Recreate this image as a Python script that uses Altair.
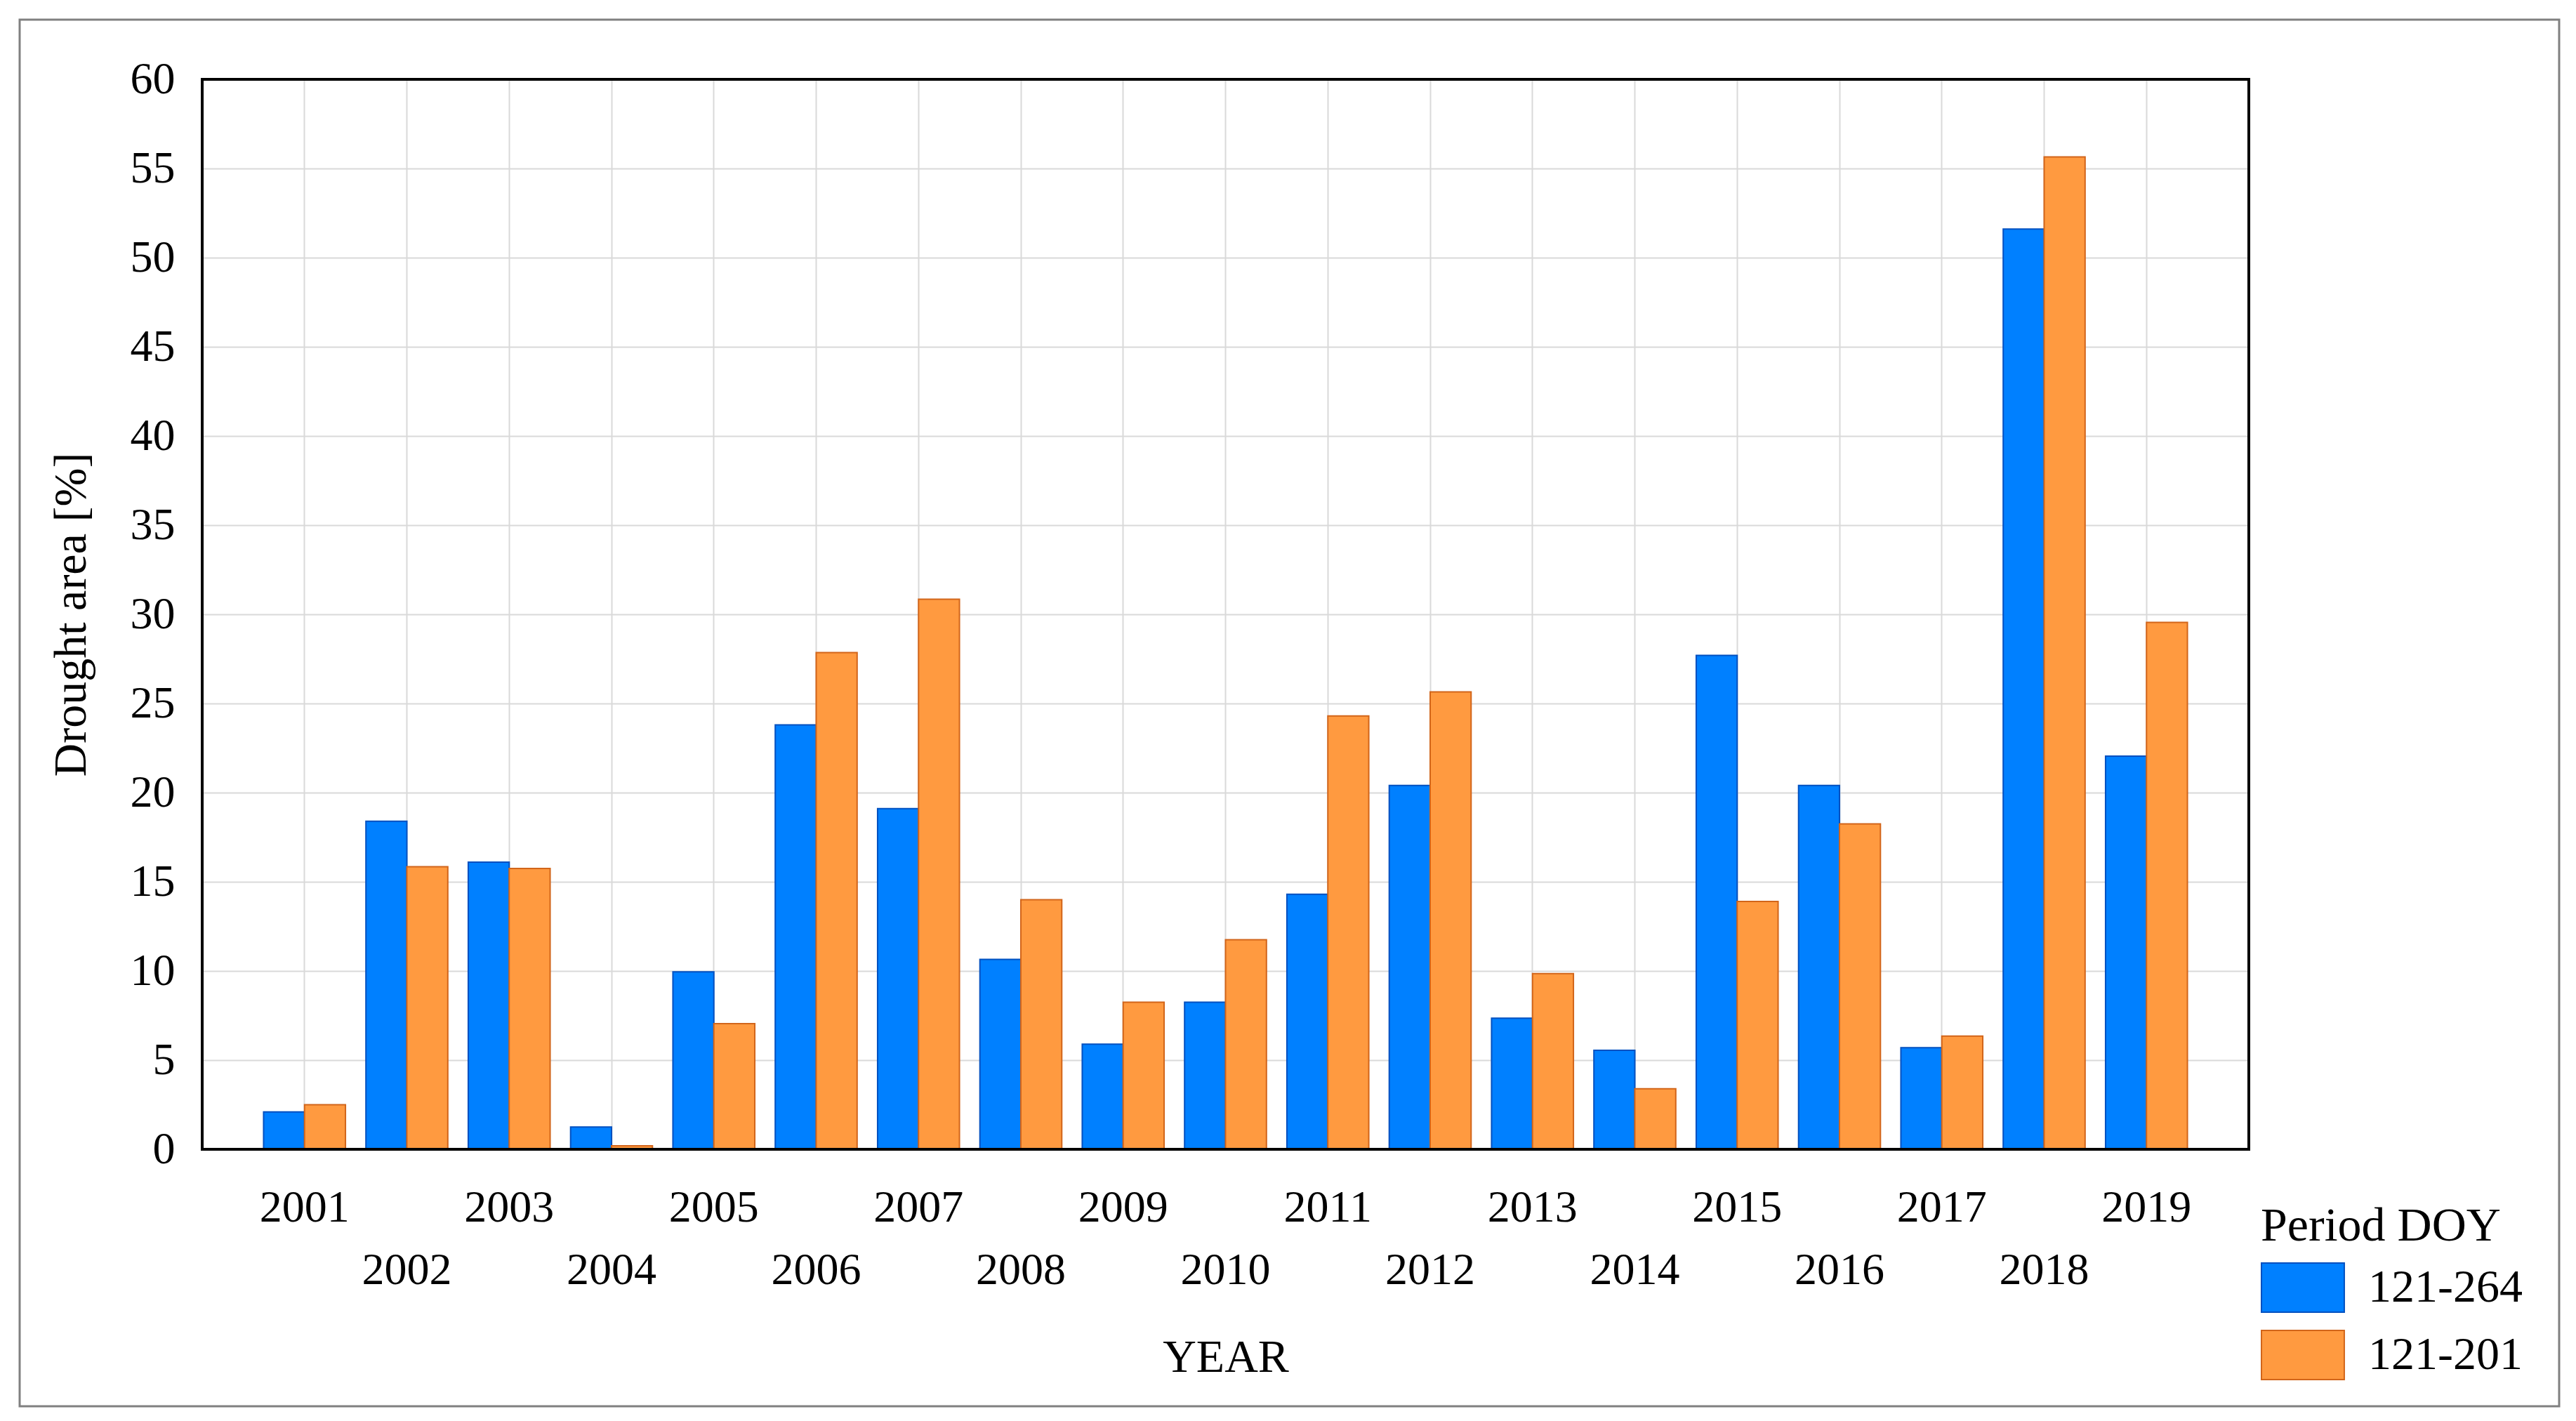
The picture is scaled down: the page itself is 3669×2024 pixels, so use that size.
import altair as alt
import pandas as pd

years = list(range(2001, 2020))
period_long = [2.1, 18.4, 16.1, 1.25, 9.95, 23.8, 19.1, 10.65, 5.9, 8.25,
               14.3, 20.4, 7.35, 5.55, 27.7, 20.4, 5.7, 51.6, 22.05]
period_short = [2.5, 15.85, 15.75, 0.2, 7.05, 27.85, 30.85, 14.0, 8.25, 11.75,
                24.3, 25.65, 9.85, 3.4, 13.9, 18.25, 6.35, 55.65, 29.55]
series_names = ["121-264", "121-201"]
fill_colors = ["#0080FF", "#FF9A40"]
stroke_colors = ["#0050C0", "#D2651A"]
y_ticks = list(range(0, 61, 5))

rows = []
for i, yr in enumerate(years):
    rows.append({"year": yr, "period": series_names[0], "value": period_long[i]})
    rows.append({"year": yr, "period": series_names[1], "value": period_short[i]})
df = pd.DataFrame(rows)
dummy = pd.DataFrame({"k": [0]})

FONT = "Liberation Serif"

legend_def = alt.Legend(
    title="Period DOY",
    orient="none",
    legendX=2932,
    legendY=1600,
    padding=0,
    titleFontSize=68,
    titleFontWeight="normal",
    titleFont=FONT,
    titleColor="black",
    titlePadding=17,
    titleLimit=0,
    labelFontSize=66,
    labelFont=FONT,
    labelColor="black",
    labelOffset=81,
    labelLimit=0,
    symbolType="M-1,-1H2.37V1H-1Z",
    symbolSize=4900,
    symbolStrokeWidth=2,
    symbolOpacity=1,
    rowPadding=18,
)

bars = alt.Chart(df).mark_bar(strokeWidth=2, opacity=1).encode(
    x=alt.X(
        "year:O",
        scale=alt.Scale(paddingInner=0.2, paddingOuter=0.6),
        axis=alt.Axis(
            title="YEAR",
            labelExpr="datum.value % 2 == 0 ? ['', datum.label] : datum.label",
            labelAngle=0,
            ticks=False,
            domain=False,
            grid=True,
            labelPadding=51,
            labelLineHeight=89,
            labelFontSize=64,
            titleFontSize=66,
            titlePadding=64,
        ),
    ),
    xOffset=alt.XOffset(
        "period:N",
        sort=series_names,
        scale=alt.Scale(domain=series_names, paddingInner=0, paddingOuter=0),
    ),
    y=alt.Y(
        "value:Q",
        scale=alt.Scale(domain=[0, 60], nice=False),
        axis=alt.Axis(
            values=y_ticks,
            title="Drought area [%]",
            ticks=False,
            domain=False,
            grid=True,
            labelPadding=39,
            labelFontSize=64,
            titleFontSize=66,
            titlePadding=50,
        ),
    ),
    color=alt.Color(
        "period:N",
        sort=series_names,
        scale=alt.Scale(domain=series_names, range=fill_colors),
        legend=legend_def,
    ),
    stroke=alt.Stroke(
        "period:N",
        sort=series_names,
        scale=alt.Scale(domain=series_names, range=stroke_colors),
        legend=legend_def,
    ),
)

frame = alt.Chart(dummy).mark_rect(filled=False, stroke="black", strokeWidth=4).encode(
    x=alt.value(0), x2=alt.value("width"), y=alt.value(0), y2=alt.value("height")
)

border = alt.Chart(dummy).mark_rect(filled=False, stroke="#808080", strokeWidth=3).encode(
    x=alt.value(-260), x2=alt.value(3357), y=alt.value(-85), y2=alt.value(1890)
)

chart = alt.layer(border, bars, frame).properties(
    width=2915,
    height=1524,
    padding={"left": 280, "top": 105, "right": 458, "bottom": 370},
    autosize=alt.AutoSizeParams(type="none"),
    background="white",
).configure_view(stroke=None).configure_axis(
    labelFont=FONT,
    titleFont=FONT,
    labelColor="black",
    titleColor="black",
    titleFontWeight="normal",
    gridColor="#d9d9d9",
    gridWidth=2,
    gridOpacity=1,
)

chart.save("out.html", embed_options={"renderer": "svg", "actions": False})
